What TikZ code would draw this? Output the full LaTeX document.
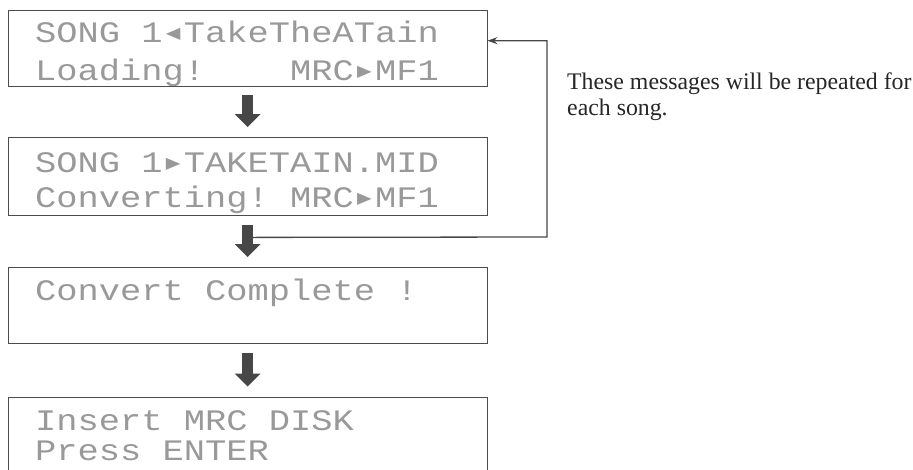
\documentclass[tikz,border=0pt]{standalone}
\usepackage{fontspec}
\usepackage{graphicx}
\setmainfont{Liberation Serif}
\newfontfamily\lcdfont{Liberation Mono}
\newfontfamily\trifont{DejaVu Sans}
\usetikzlibrary{arrows.meta,calc}
\newcommand\lcdtri[1]{\makebox[0.6em][c]{\trifont\fontsize{19}{19}\selectfont\raisebox{4.5pt}{#1}}}
\newcommand\lcdline[1]{\scalebox{1}[0.84]{#1}}
\tikzset{
  lcdbox/.style={draw=black!70, line width=0.8pt, minimum width=478.7pt, inner sep=0pt},
  lcdtext/.style={anchor=base west, inner sep=0pt, text=black!40,
    font=\lcdfont\fontsize{35.4}{35.4}\selectfont\frenchspacing},
  flowarrow/.style={line width=11pt, draw=black!72, -{Triangle[width=25pt,length=13pt,fill=black!72]}},
  fbline/.style={line width=1.3pt, draw=black!72, -{Stealth[length=10pt,width=7pt]}},
  note/.style={anchor=base west, inner sep=0pt, text=black!85, font=\fontsize{23.8}{26}\selectfont}
}
\begin{document}
\begin{tikzpicture}[x=1pt, y=-1pt]
\useasboundingbox (0,0) rectangle (913,469);
\clip (0,0) rectangle (913,469);
% boxes
\node[lcdbox, minimum height=76pt] (b1) at (247.65,48) {};
\node[lcdbox, minimum height=77.5pt] (b2) at (247.65,176.25) {};
\node[lcdbox, minimum height=75.5pt] (b3) at (247.65,305.25) {};
\node[lcdbox, minimum height=76pt] (b4) at (247.65,435) {};
% texts
\node[lcdtext] (t1a) at (35,42) {\lcdline{SONG 1\lcdtri{◀}TakeTheATain}};
\node[lcdtext] (t1b) at (35,80) {\lcdline{Loading!\ \ \ \ MRC\lcdtri{▶}MF1}};
\node[lcdtext] (t2a) at (35,172) {\lcdline{SONG 1\lcdtri{▶}TAKETAIN.MID}};
\node[lcdtext] (t2b) at (35,207) {\lcdline{Converting! MRC\lcdtri{▶}MF1}};
\node[lcdtext] (t3a) at (35,300) {\lcdline{Convert Complete !}};
\node[lcdtext] (t4a) at (35,430) {\lcdline{Insert MRC DISK}};
\node[lcdtext] (t4b) at (35,460) {\lcdline{Press ENTER}};
% flow arrows
\draw[flowarrow] ($(b1.south)+(0,9)$) -- ($(b2.north)+(0,-10)$);
\draw[flowarrow] ($(b2.south)+(0,10)$) -- ($(b3.north)+(0,-10)$);
\draw[flowarrow] ($(b3.south)+(0,10)$) -- ($(b4.north)+(0,-10)$);
% feedback loop
\coordinate (fb) at ($(b2.south)+(5.5,22)$);
\coordinate (c1) at (547,237);
\coordinate (c2) at (547,40.7);
\draw[fbline] (fb) -- (c1) -- (c2) -- (c2 -| b1.east);
% note
\node[note] (n1) at (567,89) {These messages will be repeated for};
\node[note] (n2) at (567,115) {each song.};
\end{tikzpicture}
\end{document}
